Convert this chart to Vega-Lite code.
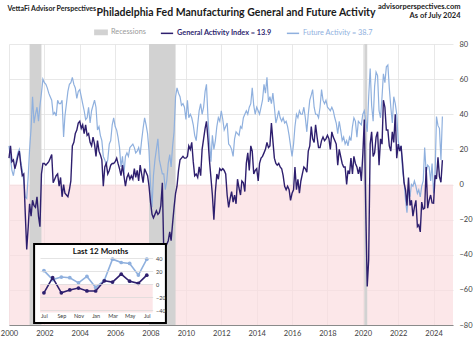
{
"$schema": "https://vega.github.io/schema/vega-lite/v6.json",
"width": 444, "height": 281,
"autosize": {"type": "none"},
"padding": {"left": 9, "top": 44, "right": 21, "bottom": 18},
"background": "white",
"title": {"text": "Philadelphia Fed Manufacturing General and Future Activity", "anchor": "middle", "fontSize": 10.5, "font": "Lato", "fontWeight": "bold", "color": "#1a1a1a", "dx": 5, "dy": 16, "offset": 0},
"datasets": {
"rec": [{"s":"2001-03","e":"2001-11"},{"s":"2007-12","e":"2009-06"},{"s":"2020-02","e":"2020-04"}],
"ins": [
{"d":"2023-07","g":-13.5,"f":21},{"d":"2023-08","g":10,"f":7},{"d":"2023-09","g":-13.5,"f":11},{"d":"2023-10","g":-9,"f":10},{"d":"2023-11","g":-6,"f":2},{"d":"2023-12","g":-10.5,"f":12},
{"d":"2024-01","g":-10.6,"f":-5},{"d":"2024-02","g":5.2,"f":6},{"d":"2024-03","g":3.2,"f":38.7},{"d":"2024-04","g":15.5,"f":33.5},{"d":"2024-05","g":4.5,"f":32},{"d":"2024-06","g":1.3,"f":14},{"d":"2024-07","g":13.9,"f":38.7}],
"main": [
{"d":"2000-01","g":15,"f":22},{"d":"2000-02","g":22,"f":15},{"d":"2000-03","g":13,"f":8},{"d":"2000-04","g":14,"f":5},{"d":"2000-05","g":9,"f":10},{"d":"2000-06","g":12,"f":14},{"d":"2000-07","g":16,"f":18},{"d":"2000-08","g":19,"f":20},{"d":"2000-09","g":11,"f":13},{"d":"2000-10","g":5,"f":8},{"d":"2000-11","g":6,"f":2},{"d":"2000-12","g":-16,"f":-7},
{"d":"2001-01","g":-37,"f":-8},{"d":"2001-02","g":-24,"f":5},{"d":"2001-03","g":-11,"f":20},{"d":"2001-04","g":-18,"f":32},{"d":"2001-05","g":-9,"f":50},{"d":"2001-06","g":-12,"f":35},{"d":"2001-07","g":-13,"f":40},{"d":"2001-08","g":-7,"f":44},{"d":"2001-09","g":-18,"f":36},{"d":"2001-10","g":-24,"f":45},{"d":"2001-11","g":6,"f":52},{"d":"2001-12","g":12,"f":60},
{"d":"2002-01","g":12,"f":58},{"d":"2002-02","g":11,"f":57},{"d":"2002-03","g":12,"f":55},{"d":"2002-04","g":13,"f":52},{"d":"2002-05","g":15,"f":50},{"d":"2002-06","g":17,"f":48},{"d":"2002-07","g":1,"f":40},{"d":"2002-08","g":3,"f":41},{"d":"2002-09","g":5,"f":39},{"d":"2002-10","g":6,"f":48},{"d":"2002-11","g":-1,"f":46},{"d":"2002-12","g":4,"f":46},
{"d":"2003-01","g":-7,"f":48},{"d":"2003-02","g":0,"f":27},{"d":"2003-03","g":-5,"f":39},{"d":"2003-04","g":-6,"f":46},{"d":"2003-05","g":-7,"f":53},{"d":"2003-06","g":-3,"f":57},{"d":"2003-07","g":2,"f":58},{"d":"2003-08","g":22,"f":61},{"d":"2003-09","g":24,"f":57},{"d":"2003-10","g":29,"f":55},{"d":"2003-11","g":31,"f":49},{"d":"2003-12","g":35,"f":53},
{"d":"2004-01","g":36,"f":54},{"d":"2004-02","g":32,"f":50},{"d":"2004-03","g":34,"f":46},{"d":"2004-04","g":29,"f":42},{"d":"2004-05","g":34,"f":37},{"d":"2004-06","g":28,"f":38},{"d":"2004-07","g":29,"f":44},{"d":"2004-08","g":24,"f":35},{"d":"2004-09","g":22,"f":42},{"d":"2004-10","g":27,"f":45},{"d":"2004-11","g":23,"f":48},{"d":"2004-12","g":16,"f":44},
{"d":"2005-01","g":25,"f":31},{"d":"2005-02","g":19,"f":33},{"d":"2005-03","g":17,"f":28},{"d":"2005-04","g":14,"f":25},{"d":"2005-05","g":-1,"f":16},{"d":"2005-06","g":10,"f":14},{"d":"2005-07","g":12,"f":11},{"d":"2005-08","g":6,"f":14},{"d":"2005-09","g":8,"f":23},{"d":"2005-10","g":11,"f":25},{"d":"2005-11","g":12,"f":34},{"d":"2005-12","g":12,"f":38},
{"d":"2006-01","g":13,"f":33},{"d":"2006-02","g":15,"f":31},{"d":"2006-03","g":12,"f":27},{"d":"2006-04","g":9,"f":21},{"d":"2006-05","g":5,"f":10},{"d":"2006-06","g":11,"f":16},{"d":"2006-07","g":5,"f":6},{"d":"2006-08","g":-1,"f":16},{"d":"2006-09","g":4,"f":18},{"d":"2006-10","g":6,"f":16},{"d":"2006-11","g":3,"f":21},{"d":"2006-12","g":5,"f":22},
{"d":"2007-01","g":3,"f":23},{"d":"2007-02","g":9,"f":21},{"d":"2007-03","g":4,"f":18},{"d":"2007-04","g":8,"f":19},{"d":"2007-05","g":2,"f":21},{"d":"2007-06","g":11,"f":17},{"d":"2007-07","g":6,"f":25},{"d":"2007-08","g":1,"f":32},{"d":"2007-09","g":9,"f":38},{"d":"2007-10","g":7,"f":34},{"d":"2007-11","g":5,"f":29},{"d":"2007-12","g":-1,"f":19},
{"d":"2008-01","g":-10,"f":0},{"d":"2008-02","g":-17,"f":-13},{"d":"2008-03","g":-19,"f":5},{"d":"2008-04","g":-17,"f":14},{"d":"2008-05","g":-15,"f":20},{"d":"2008-06","g":-17,"f":26},{"d":"2008-07","g":-16,"f":14},{"d":"2008-08","g":-12,"f":10},{"d":"2008-09","g":1,"f":6},{"d":"2008-10","g":-39,"f":6},{"d":"2008-11","g":-36,"f":-3},{"d":"2008-12","g":-34,"f":2},
{"d":"2009-01","g":-32,"f":12},{"d":"2009-02","g":-27,"f":17},{"d":"2009-03","g":-32,"f":10},{"d":"2009-04","g":-22,"f":22},{"d":"2009-05","g":-13,"f":30},{"d":"2009-06","g":-5,"f":50},{"d":"2009-07","g":-1,"f":55},{"d":"2009-08","g":8,"f":52},{"d":"2009-09","g":14,"f":50},{"d":"2009-10","g":15,"f":45},{"d":"2009-11","g":16,"f":46},{"d":"2009-12","g":15,"f":44},
{"d":"2010-01","g":15,"f":37},{"d":"2010-02","g":16,"f":48},{"d":"2010-03","g":22,"f":38},{"d":"2010-04","g":20,"f":40},{"d":"2010-05","g":24,"f":38},{"d":"2010-06","g":13,"f":34},{"d":"2010-07","g":5,"f":28},{"d":"2010-08","g":6,"f":25},{"d":"2010-09","g":4,"f":34},{"d":"2010-10","g":10,"f":42},{"d":"2010-11","g":5,"f":46},{"d":"2010-12","g":20,"f":40},
{"d":"2011-01","g":26,"f":44},{"d":"2011-02","g":32,"f":53},{"d":"2011-03","g":36,"f":57},{"d":"2011-04","g":26,"f":38},{"d":"2011-05","g":14,"f":25},{"d":"2011-06","g":4,"f":13},{"d":"2011-07","g":-6,"f":28},{"d":"2011-08","g":-20,"f":20},{"d":"2011-09","g":-4,"f":25},{"d":"2011-10","g":6,"f":33},{"d":"2011-11","g":3,"f":38},{"d":"2011-12","g":9,"f":36},
{"d":"2012-01","g":8,"f":42},{"d":"2012-02","g":9,"f":37},{"d":"2012-03","g":8,"f":31},{"d":"2012-04","g":6,"f":33},{"d":"2012-05","g":-6,"f":35},{"d":"2012-06","g":-13,"f":23},{"d":"2012-07","g":-8,"f":22},{"d":"2012-08","g":-4,"f":20},{"d":"2012-09","g":-10,"f":16},{"d":"2012-10","g":-6,"f":26},{"d":"2012-11","g":-11,"f":30},{"d":"2012-12","g":3,"f":29},
{"d":"2013-01","g":-2,"f":28},{"d":"2013-02","g":-6,"f":33},{"d":"2013-03","g":2,"f":32},{"d":"2013-04","g":1,"f":38},{"d":"2013-05","g":-4,"f":40},{"d":"2013-06","g":12,"f":42},{"d":"2013-07","g":18,"f":40},{"d":"2013-08","g":8,"f":44},{"d":"2013-09","g":22,"f":46},{"d":"2013-10","g":19,"f":55},{"d":"2013-11","g":6,"f":45},{"d":"2013-12","g":8,"f":40},
{"d":"2014-01","g":9,"f":44},{"d":"2014-02","g":2,"f":42},{"d":"2014-03","g":12,"f":40},{"d":"2014-04","g":15,"f":44},{"d":"2014-05","g":16,"f":48},{"d":"2014-06","g":18,"f":57},{"d":"2014-07","g":20,"f":52},{"d":"2014-08","g":24,"f":61},{"d":"2014-09","g":21,"f":47},{"d":"2014-10","g":22,"f":50},{"d":"2014-11","g":35,"f":46},{"d":"2014-12","g":25,"f":52},
{"d":"2015-01","g":15,"f":44},{"d":"2015-02","g":12,"f":35},{"d":"2015-03","g":11,"f":38},{"d":"2015-04","g":12,"f":42},{"d":"2015-05","g":10,"f":38},{"d":"2015-06","g":9,"f":36},{"d":"2015-07","g":5,"f":38},{"d":"2015-08","g":-1,"f":35},{"d":"2015-09","g":-3,"f":36},{"d":"2015-10","g":-1,"f":33},{"d":"2015-11","g":-3,"f":28},{"d":"2015-12","g":-9,"f":22},
{"d":"2016-01","g":-5,"f":16},{"d":"2016-02","g":-3,"f":23},{"d":"2016-03","g":10,"f":33},{"d":"2016-04","g":-3,"f":40},{"d":"2016-05","g":3,"f":38},{"d":"2016-06","g":-5,"f":42},{"d":"2016-07","g":2,"f":40},{"d":"2016-08","g":6,"f":40},{"d":"2016-09","g":10,"f":44},{"d":"2016-10","g":9,"f":38},{"d":"2016-11","g":7,"f":30},{"d":"2016-12","g":19,"f":40},
{"d":"2017-01","g":22,"f":48},{"d":"2017-02","g":33,"f":51},{"d":"2017-03","g":26,"f":54},{"d":"2017-04","g":24,"f":44},{"d":"2017-05","g":34,"f":40},{"d":"2017-06","g":27,"f":40},{"d":"2017-07","g":21,"f":38},{"d":"2017-08","g":21,"f":44},{"d":"2017-09","g":25,"f":54},{"d":"2017-10","g":27,"f":48},{"d":"2017-11","g":25,"f":46},{"d":"2017-12","g":26,"f":48},
{"d":"2018-01","g":28,"f":44},{"d":"2018-02","g":26,"f":43},{"d":"2018-03","g":20,"f":42},{"d":"2018-04","g":30,"f":44},{"d":"2018-05","g":27,"f":42},{"d":"2018-06","g":25,"f":38},{"d":"2018-07","g":23,"f":35},{"d":"2018-08","g":11,"f":29},{"d":"2018-09","g":20,"f":36},{"d":"2018-10","g":16,"f":31},{"d":"2018-11","g":12,"f":25},{"d":"2018-12","g":10,"f":27},
{"d":"2019-01","g":10,"f":23},{"d":"2019-02","g":0,"f":25},{"d":"2019-03","g":8,"f":22},{"d":"2019-04","g":6,"f":27},{"d":"2019-05","g":15,"f":25},{"d":"2019-06","g":6,"f":33},{"d":"2019-07","g":16,"f":38},{"d":"2019-08","g":12,"f":36},{"d":"2019-09","g":10,"f":27},{"d":"2019-10","g":6,"f":36},{"d":"2019-11","g":10,"f":35},{"d":"2019-12","g":2,"f":34},
{"d":"2020-01","g":17,"f":40},{"d":"2020-02","g":37,"f":42},{"d":"2020-03","g":-13,"f":36},{"d":"2020-04","g":-58,"f":30},{"d":"2020-05","g":-43,"f":50},{"d":"2020-06","g":23,"f":66},{"d":"2020-07","g":30,"f":45},{"d":"2020-08","g":16,"f":36},{"d":"2020-09","g":18,"f":56},{"d":"2020-10","g":27,"f":64},{"d":"2020-11","g":30,"f":62},{"d":"2020-12","g":11,"f":42},
{"d":"2021-01","g":26,"f":38},{"d":"2021-02","g":23,"f":50},{"d":"2021-03","g":48,"f":63},{"d":"2021-04","g":44,"f":58},{"d":"2021-05","g":31,"f":67},{"d":"2021-06","g":31,"f":68},{"d":"2021-07","g":22,"f":55},{"d":"2021-08","g":19,"f":44},{"d":"2021-09","g":30,"f":35},{"d":"2021-10","g":24,"f":50},{"d":"2021-11","g":40,"f":46},{"d":"2021-12","g":15,"f":40},
{"d":"2022-01","g":23,"f":25},{"d":"2022-02","g":19,"f":20},{"d":"2022-03","g":22,"f":22},{"d":"2022-04","g":12,"f":8},{"d":"2022-05","g":1,"f":2},{"d":"2022-06","g":-3,"f":-9},{"d":"2022-07","g":-12,"f":-16},{"d":"2022-08","g":4,"f":-3},{"d":"2022-09","g":-12,"f":-7},{"d":"2022-10","g":-9,"f":0},{"d":"2022-11","g":-18,"f":-1},{"d":"2022-12","g":-13,"f":2},
{"d":"2023-01","g":-9,"f":-1},{"d":"2023-02","g":-24,"f":-5},{"d":"2023-03","g":-23,"f":-3},{"d":"2023-04","g":-27,"f":-7},{"d":"2023-05","g":-10,"f":-1},{"d":"2023-06","g":-14,"f":2},{"d":"2023-07","g":-13.5,"f":21},{"d":"2023-08","g":10,"f":7},{"d":"2023-09","g":-13.5,"f":11},{"d":"2023-10","g":-9,"f":10},{"d":"2023-11","g":-6,"f":2},{"d":"2023-12","g":-10.5,"f":12},
{"d":"2024-01","g":-10.6,"f":-5},{"d":"2024-02","g":5.2,"f":6},{"d":"2024-03","g":3.2,"f":38.7},{"d":"2024-04","g":15.5,"f":33.5},{"d":"2024-05","g":4.5,"f":32},{"d":"2024-06","g":1.3,"f":14},{"d":"2024-07","g":13.9,"f":38.7}
]
},
"layer": [
{"layer": [
{"data": {"values": [{}]},
 "mark": {"type": "rect", "fill": "#fbdde0", "opacity": 0.7},
 "encoding": {
  "x": {"datum": {"year": 2000, "month": 1, "date": 1}, "type": "temporal",
   "scale": {"domain": [{"year": 2000, "month": 1, "date": 1}, {"year": 2025, "month": 2, "date": 5}], "nice": false},
   "axis": {"orient": "bottom", "tickCount": {"interval": "year", "step": 2}, "format": "%Y", "grid": true, "gridColor": "#e2e2e2", "gridWidth": 0.8, "domain": true, "domainColor": "#8a8a8a", "ticks": false, "labelFontSize": 7.5, "labelColor": "#404040", "labelPadding": 4, "labelFlush": false, "labelOverlap": false, "title": "VettaFi  Advisor Perspectives", "titleX": -2, "titleY": -317, "titleAlign": "left", "titleBaseline": "middle", "titleFontSize": 7, "titleFontWeight": "bold", "titleColor": "#222222"}},
  "x2": {"datum": {"year": 2025, "month": 2, "date": 5}},
  "y": {"datum": 0, "type": "quantitative",
   "scale": {"domain": [-80, 80], "nice": false, "zero": false},
   "axis": {"orient": "right", "values": [-80, -60, -40, -20, 0, 20, 40, 60, 80], "tickCount": 9, "grid": true, "gridColor": "#e2e2e2", "gridWidth": 0.8, "domain": false, "ticks": false, "labelFontSize": 7.5, "labelColor": "#404040", "labelPadding": 6, "labelFlush": false, "labelOverlap": false, "title": ["advisorperspectives.com", "As of July 2024"], "titleAngle": 0, "titleX": 7, "titleY": -42, "titleAlign": "right", "titleBaseline": "top", "titleFontSize": 7.5, "titleFontWeight": "bold", "titleColor": "#222222", "titleLineHeight": 9}},
  "y2": {"datum": -80}
 }},
{"data": {"name": "rec"},
 "mark": {"type": "rect"},
 "encoding": {
  "x": {"field": "s", "type": "temporal", "scale": {"domain": [{"year": 2000, "month": 1, "date": 1}, {"year": 2025, "month": 2, "date": 5}], "nice": false}},
  "x2": {"field": "e"},
  "y": {"datum": 80, "type": "quantitative", "scale": {"domain": [-80, 80], "nice": false, "zero": false}},
  "y2": {"datum": -80},
  "color": {"datum": "Recessions", "type": "nominal",
   "scale": {"domain": ["Recessions", "General Activity Index = 13.9", "Future Activity = 38.7"], "range": ["#d2d2d2", "#2e1f6e", "#8fb0de"]},
   "legend": {"orient": "none", "legendX": 85, "legendY": -19, "direction": "horizontal", "title": null, "labelFontSize": 7.3, "labelFont": "Lato", "symbolSize": 150, "columnPadding": 11, "labelOffset": 3,
    "encode": {
     "labels": {"update": {"fill": {"signal": "datum.value === 'Recessions' ? '#9a9a9a' : scale('color', datum.value)"}, "fontWeight": {"signal": "datum.value === 'General Activity Index = 13.9' ? 'bold' : 'normal'"}}},
     "symbols": {"update": {"shape": {"signal": "datum.value === 'Recessions' ? 'M-1,-0.35H1V0.35H-1Z' : 'stroke'"}, "fill": {"signal": "datum.value === 'Recessions' ? '#d2d2d2' : 'transparent'"}, "stroke": {"signal": "datum.value === 'Recessions' ? 'transparent' : scale('color', datum.value)"}, "strokeWidth": {"value": 1.5}, "opacity": {"value": 1}}}
    }}}
 }},
{"data": {"name": "main"},
 "mark": {"type": "line", "strokeWidth": 1.2},
 "encoding": {
  "x": {"field": "d", "type": "temporal", "scale": {"domain": [{"year": 2000, "month": 1, "date": 1}, {"year": 2025, "month": 2, "date": 5}], "nice": false}},
  "y": {"field": "f", "type": "quantitative", "scale": {"domain": [-80, 80], "nice": false, "zero": false}},
  "color": {"datum": "Future Activity = 38.7", "type": "nominal"}
 }},
{"data": {"name": "main"},
 "mark": {"type": "line", "strokeWidth": 1.4},
 "encoding": {
  "x": {"field": "d", "type": "temporal", "scale": {"domain": [{"year": 2000, "month": 1, "date": 1}, {"year": 2025, "month": 2, "date": 5}], "nice": false}},
  "y": {"field": "g", "type": "quantitative", "scale": {"domain": [-80, 80], "nice": false, "zero": false}},
  "color": {"datum": "General Activity Index = 13.9", "type": "nominal"}
 }}
]},
{"layer": [
{"data": {"values": [{}]},
 "mark": {"type": "rect", "fill": "white", "stroke": "black", "strokeWidth": 2},
 "encoding": {
  "x": {"datum": {"year": 2023, "month": 5, "date": 27}, "type": "temporal",
   "scale": {"domain": [{"year": 2023, "month": 6, "date": 17}, {"year": 2024, "month": 7, "date": 22}], "range": [31, 143.7], "nice": false},
   "axis": {"orient": "bottom", "offset": -12.5, "tickCount": {"interval": "month", "step": 2}, "format": "%b", "grid": false, "domain": false, "ticks": false, "labelFontSize": 5.5, "labelColor": "#404040", "labelPadding": 1, "labelFlush": false, "labelOverlap": false, "zindex": 1, "title": "Last 12 Months", "titleX": 91, "titleY": -60.8, "titleAlign": "center", "titleBaseline": "middle", "titleFontSize": 8, "titleFontWeight": "bold", "titleColor": "#111111"}},
  "x2": {"datum": {"year": 2024, "month": 9, "date": 7}},
  "y": {"datum": 62.1, "type": "quantitative",
   "scale": {"domain": [-40, 40], "range": [266, 214.3], "nice": false, "zero": false},
   "axis": {"orient": "left", "offset": -144, "values": [-40, -20, 0, 20, 40], "grid": true, "gridColor": "#d9d9d9", "gridWidth": 0.7, "domain": false, "ticks": false, "tickSize": 0, "labelAlign": "left", "labelPadding": -2.5, "labelFontSize": 5.5, "labelColor": "#404040", "labelFlush": false, "labelOverlap": false, "zindex": 1, "title": null}},
  "y2": {"datum": -60.1}
 }},
{"data": {"values": [{}]},
 "mark": {"type": "rect", "fill": "#fce6e8"},
 "encoding": {
  "x": {"datum": {"year": 2023, "month": 6, "date": 17}, "type": "temporal", "scale": {"domain": [{"year": 2023, "month": 6, "date": 17}, {"year": 2024, "month": 7, "date": 22}], "range": [31, 143.7], "nice": false}},
  "x2": {"datum": {"year": 2024, "month": 7, "date": 22}},
  "y": {"datum": 0, "type": "quantitative", "scale": {"domain": [-40, 40], "range": [266, 214.3], "nice": false, "zero": false}},
  "y2": {"datum": -44}
 }},
{"data": {"name": "ins"},
 "mark": {"type": "line", "strokeWidth": 1.6, "point": {"filled": true, "size": 14}},
 "encoding": {
  "x": {"field": "d", "type": "temporal", "scale": {"domain": [{"year": 2023, "month": 6, "date": 17}, {"year": 2024, "month": 7, "date": 22}], "range": [31, 143.7], "nice": false}},
  "y": {"field": "f", "type": "quantitative", "scale": {"domain": [-40, 40], "range": [266, 214.3], "nice": false, "zero": false}},
  "color": {"datum": "Future Activity = 38.7", "type": "nominal"}
 }},
{"data": {"name": "ins"},
 "mark": {"type": "line", "strokeWidth": 1.6, "point": {"filled": true, "size": 14}},
 "encoding": {
  "x": {"field": "d", "type": "temporal", "scale": {"domain": [{"year": 2023, "month": 6, "date": 17}, {"year": 2024, "month": 7, "date": 22}], "range": [31, 143.7], "nice": false}},
  "y": {"field": "g", "type": "quantitative", "scale": {"domain": [-40, 40], "range": [266, 214.3], "nice": false, "zero": false}},
  "color": {"datum": "General Activity Index = 13.9", "type": "nominal"}
 }}
]}
],
"resolve": {"scale": {"x": "independent", "y": "independent"}, "axis": {"x": "independent", "y": "independent"}},
"config": {"view": {"stroke": null}, "font": "Lato", "axis": {"labelFont": "Lato", "titleFont": "Lato"}}
}
